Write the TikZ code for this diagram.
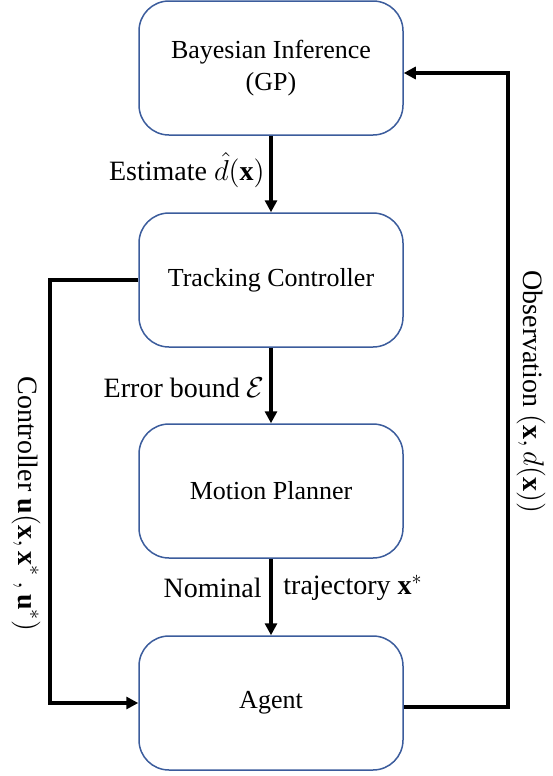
\documentclass[tikz,border=0pt]{standalone}
\usepackage{amsmath,amssymb}
\usepackage{fontspec}
\setmainfont{Liberation Serif}
\usetikzlibrary{arrows.meta,calc}
\definecolor{ink}{HTML}{000000}
\definecolor{boxline}{HTML}{3B5C9C}
\newcommand{\boxfont}{\fontsize{13}{16}\selectfont}
\newcommand{\tagfont}{\fontsize{14}{17}\selectfont}
\tikzset{
 every node/.append style={text=ink,align=center},
 block/.style={draw=boxline,fill=white,rounded corners=15pt,line width=.75pt,minimum width=132pt,minimum height=67pt,font=\boxfont},
 word/.style={font=\tagfont,inner sep=1pt},
 flow/.style={-{Triangle[length=6pt,width=6pt]},draw=ink,line width=2pt},
}

\begin{document}
\begin{tikzpicture}[x=0.5pt,y=-0.5pt]

\useasboundingbox (0,0) rectangle (552,776);
\node[block] (bay) at (271,68) {Bayesian Inference\\(GP)};
\node[block] (trk) at (271,280) {Tracking Controller};
\node[block] (mot) at (271,491) {Motion Planner};
\node[block] (agt) at (271,703) {Agent};
\draw[flow] (bay) -- (trk); \draw[flow] (trk) -- (mot); \draw[flow] (mot) -- (agt);
\node[word,anchor=east] (est) at (267,170) {Estimate \(\hat{d}(\mathbf{x})\)};
\node[word,anchor=east] (err) at (267,388) {Error bound \(\mathcal{E}\)};
\node[word,anchor=east] (nom) at (264,588) {Nominal};
\node[word,anchor=west] (traj) at (281,588) {trajectory \(\mathbf{x}^{*}\)};
% feedback loops
\coordinate (cl) at (50,0);
\coordinate (cr) at (508,0);
\coordinate (aout) at ([yshift=-2pt]agt.east);
\coordinate (bin) at ([yshift=-2.5pt]bay.east);
\draw[flow] (trk.west) -- (trk.west -| cl) -- (agt.west -| cl) -- (agt.west);
\draw[flow] (aout) -- (aout -| cr) -- (bin -| cr) -- (bin);
\node[word,rotate=-90] (ctl) at (26,504) {Controller \(\mathbf{u}(\mathbf{x},\mathbf{x}^{*}\,,\mathbf{u}^{*})\)};
\node[word,rotate=-90] (obs) at (531,392) {Observation \((\mathbf{x},d(\mathbf{x}))\)};

\end{tikzpicture}
\end{document}
